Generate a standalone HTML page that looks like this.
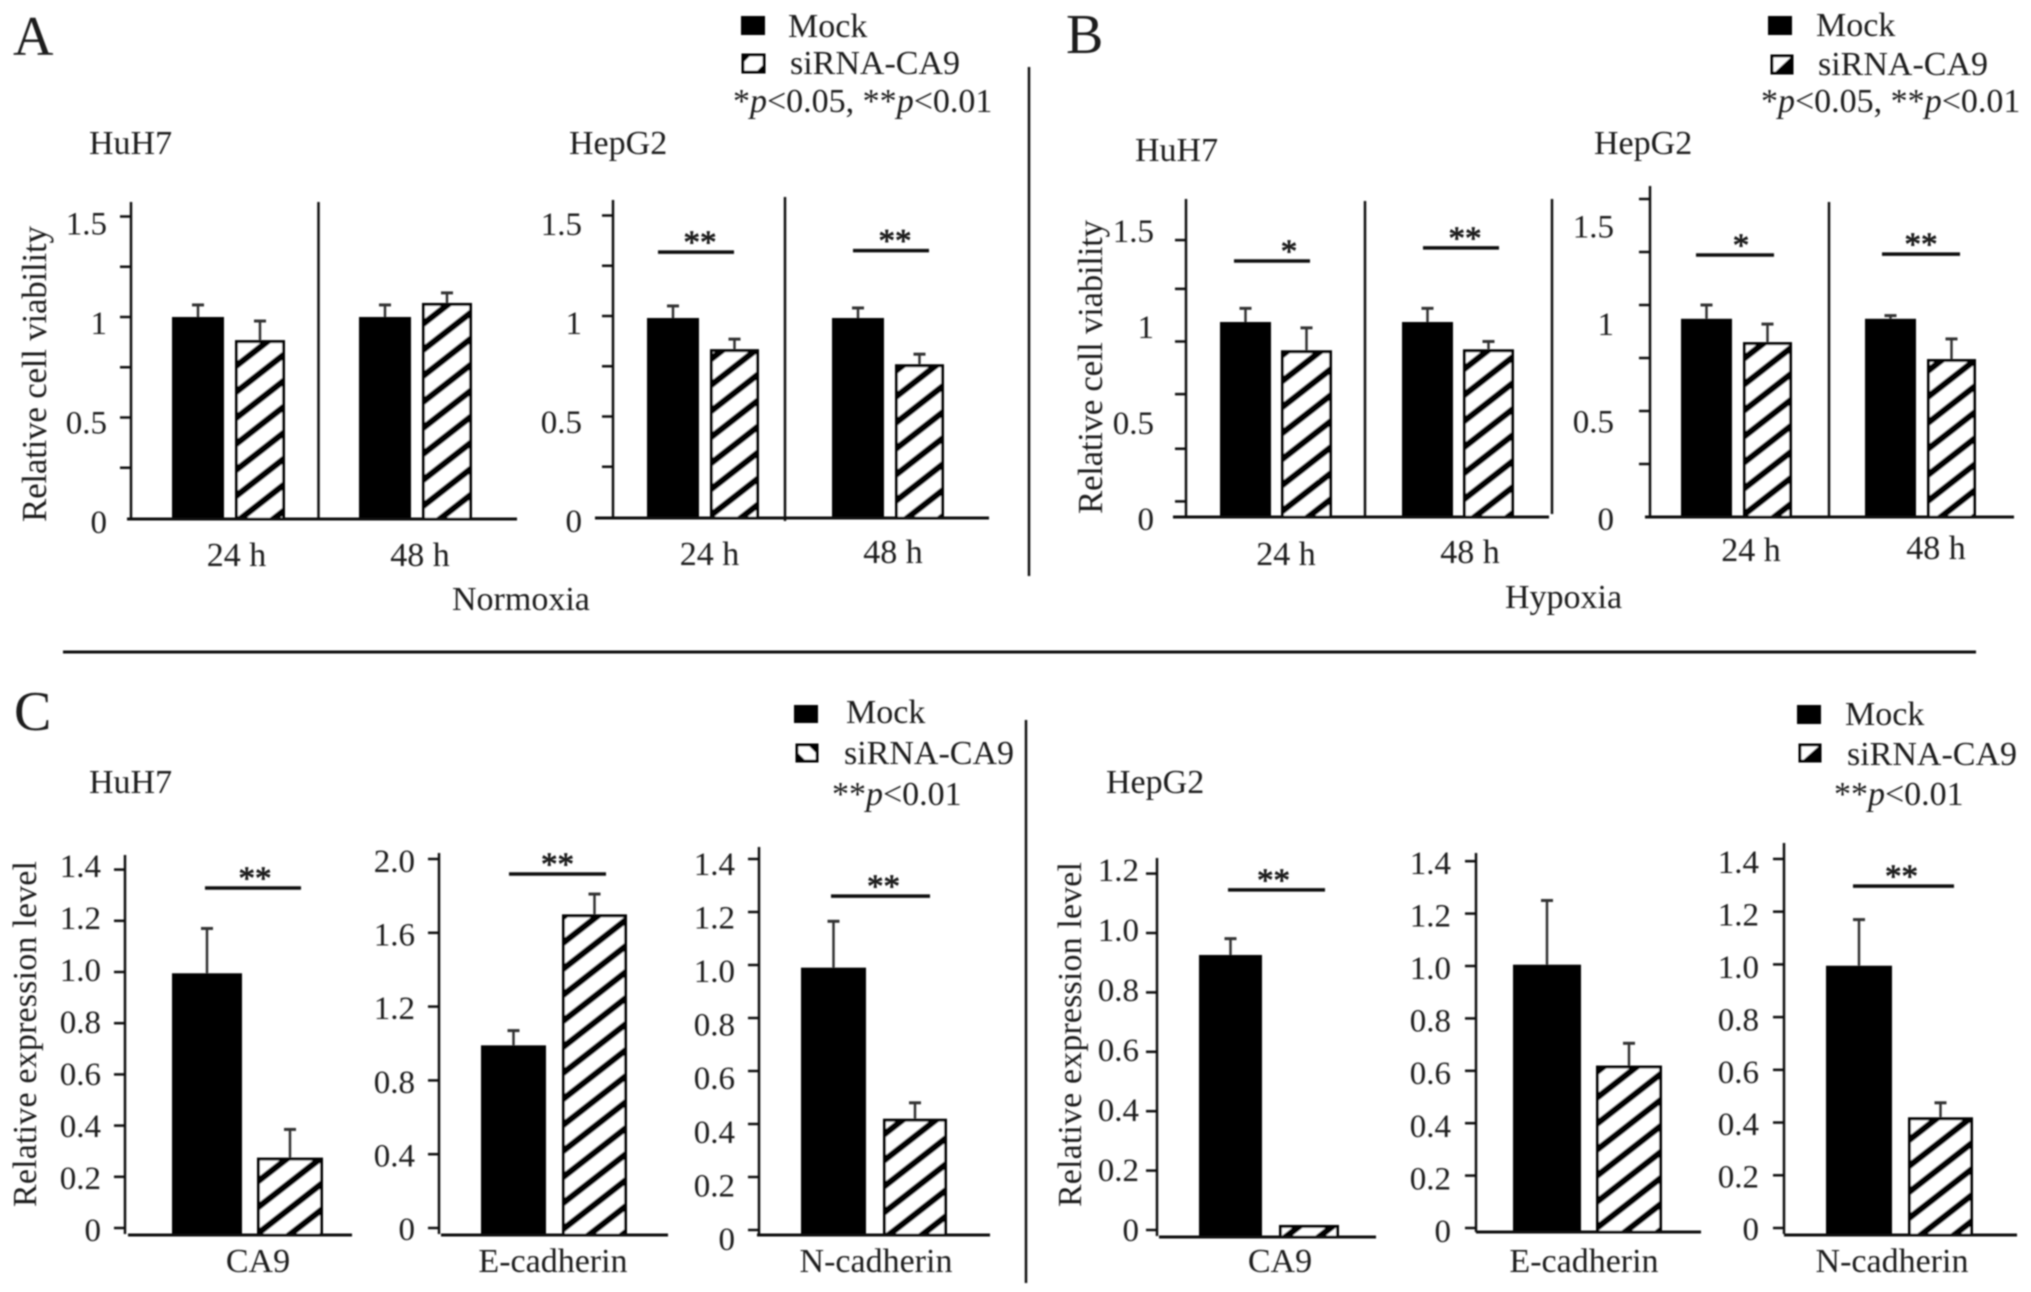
<!DOCTYPE html>
<html lang="en">
<head>
<meta charset="utf-8">
<title>Relative cell viability and expression level</title>
<style>
  html, body { margin: 0; padding: 0; background: #fff; }
  #figure { display: block; width: 2031px; height: 1292px; }
  text { font-family: "Liberation Serif", serif; fill: #1c1c1c; font-size: 34px; }
</style>
</head>
<body>
<svg id="figure" xmlns="http://www.w3.org/2000/svg" width="2031" height="1292" viewBox="0 0 2031 1292">
  <defs>
    <pattern id="hatch" width="20.5" height="20.5" patternUnits="userSpaceOnUse" patternTransform="rotate(-38)">
      <rect width="20.5" height="20.5" fill="#fff"></rect>
      <rect width="20.5" height="6.5" fill="#000"></rect>
    </pattern>
    <filter id="soft" x="0" y="0" width="100%" height="100%" filterUnits="userSpaceOnUse" primitiveUnits="userSpaceOnUse">
      <feGaussianBlur stdDeviation="0.7"></feGaussianBlur>
    </filter>
  </defs>
  <rect width="2031" height="1292" fill="#fff"></rect>
  <g id="root" filter="url(#soft)">

    <text x="13" y="55" style="font-size:56px">A</text>
    <text x="1066" y="53" style="font-size:56px">B</text>
    <text x="14" y="730" style="font-size:56px">C</text>

    <g>
      <rect x="741" y="16" width="24" height="19" fill="#000"></rect>
      <text x="788" y="37">Mock</text>
      <rect x="743" y="55" width="21" height="17" fill="#fff" stroke="#000" stroke-width="3"></rect>
      <polygon points="743,55 751,55 743,63" fill="#000"></polygon>
      <polygon points="764,72 756,72 764,64" fill="#000"></polygon>
      <text x="790" y="74">siRNA-CA9</text>
      <text x="733" y="112">*<tspan font-style="italic">p</tspan>&lt;0.05, **<tspan font-style="italic">p</tspan>&lt;0.01</text>
    </g>
    <g>
      <rect x="1768" y="16" width="24" height="19" fill="#000"></rect>
      <text x="1816" y="36">Mock</text>
      <rect x="1772" y="56" width="20" height="17" fill="#fff" stroke="#000" stroke-width="3"></rect>
      <polygon points="1792,56 1792,73 1774,73" fill="#000"></polygon>
      <text x="1818" y="75">siRNA-CA9</text>
      <text x="1761" y="112">*<tspan font-style="italic">p</tspan>&lt;0.05, **<tspan font-style="italic">p</tspan>&lt;0.01</text>
    </g>
    <g>
      <rect x="794" y="705" width="24" height="18" fill="#000"></rect>
      <text x="846" y="723">Mock</text>
      <rect x="797" y="745" width="20" height="16" fill="#fff" stroke="#000" stroke-width="3"></rect>
      <polygon points="808,745 817,745 817,754" fill="#000"></polygon>
      <polygon points="797,761 806,761 797,752" fill="#000"></polygon>
      <text x="844" y="764">siRNA-CA9</text>
      <text x="832" y="805">**<tspan font-style="italic">p</tspan>&lt;0.01</text>
    </g>
    <g>
      <rect x="1797" y="705" width="24" height="19" fill="#000"></rect>
      <text x="1845" y="725">Mock</text>
      <rect x="1800" y="745" width="20" height="16" fill="#fff" stroke="#000" stroke-width="3"></rect>
      <polygon points="1820,745 1820,761 1802,761" fill="#000"></polygon>
      <text x="1847" y="765">siRNA-CA9</text>
      <text x="1834" y="805">**<tspan font-style="italic">p</tspan>&lt;0.01</text>
    </g>

    <text x="89" y="154">HuH7</text>
    <text x="569" y="154">HepG2</text>
    <text x="1135" y="161">HuH7</text>
    <text x="1594" y="154">HepG2</text>
    <text x="89" y="793">HuH7</text>
    <text x="1106" y="793">HepG2</text>

    <text x="452" y="610">Normoxia</text>
    <text x="1505" y="608">Hypoxia</text>

    <text transform="translate(46 522) rotate(-90)" textLength="296" lengthAdjust="spacing" style="font-size:35px">Relative cell viability</text>
    <text transform="translate(1102 514) rotate(-90)" textLength="294" lengthAdjust="spacing" style="font-size:35px">Relative cell viability</text>
    <text transform="translate(36 1207) rotate(-90)" textLength="346" lengthAdjust="spacing" style="font-size:34px">Relative expression level</text>
    <text transform="translate(1081 1207) rotate(-90)" textLength="345" lengthAdjust="spacing" style="font-size:34px">Relative expression level</text>

    <line x1="1029" y1="67" x2="1029" y2="576" stroke="#111" stroke-width="2.5"></line>
    <line x1="63" y1="652" x2="1976" y2="652" stroke="#111" stroke-width="3"></line>
    <line x1="1026" y1="720" x2="1026" y2="1283" stroke="#111" stroke-width="2.5"></line>
  </g>
</svg>
<script>
// ---- Chart data ----
const timeCategories = ['24 h', '48 h'];
const viabilityTickLabels = ['1.5', '1', '0.5', '0'];
const viabilityTicks = [1.5, 1.25, 1, 0.75, 0.5, 0.25];
const hypoxiaHuh7Ticks = [1.42, 1.17, 0.9, 0.63, 0.35, 0.08];

const normHuh7Mock = [1.0, 1.0];
const normHuh7MockErr = [0.06, 0.06];
const normHuh7Sirna = [0.885, 1.07];
const normHuh7SirnaErr = [0.095, 0.05];

const normHepg2Mock = [0.99, 0.99];
const normHepg2MockErr = [0.06, 0.05];
const normHepg2Sirna = [0.835, 0.76];
const normHepg2SirnaErr = [0.05, 0.05];
const normHepg2Sig = [1.318, 1.325];
const normHepg2Stars = ['**', '**'];

const hypHuh7Mock = [1.0, 1.0];
const hypHuh7MockErr = [0.07, 0.07];
const hypHuh7Sirna = [0.855, 0.86];
const hypHuh7SirnaErr = [0.115, 0.04];
const hypHuh7Sig = [1.313, 1.38];
const hypHuh7Stars = ['*', '**'];

const hypHepg2Mock = [0.935, 0.935];
const hypHepg2MockErr = [0.065, 0.015];
const hypHepg2Sirna = [0.825, 0.745];
const hypHepg2SirnaErr = [0.085, 0.095];
const hypHepg2Sig = [1.236, 1.24];
const hypHepg2Stars = ['*', '**'];

const expressionTickLabels = ['1.4', '1.2', '1.0', '0.8', '0.6', '0.4', '0.2', '0'];
const expressionTicks = [1.4, 1.2, 1.0, 0.8, 0.6, 0.4, 0.2, 0];
const wideTickLabels = ['2.0', '1.6', '1.2', '0.8', '0.4', '0'];
const wideTicks = [2.0, 1.6, 1.2, 0.8, 0.4, 0];
const ca9HepTickLabels = ['1.2', '1.0', '0.8', '0.6', '0.4', '0.2', '0'];
const ca9HepTicks = [1.2, 1.0, 0.8, 0.6, 0.4, 0.2, 0];

const huh7Ca9Cat = ['CA9'];
const huh7Ca9Mock = [0.995];
const huh7Ca9MockErr = [0.175];
const huh7Ca9Sirna = [0.275];
const huh7Ca9SirnaErr = [0.11];
const huh7Ca9Sig = [1.328];
const huh7Ca9Stars = ['**'];

const huh7EcadCat = ['E-cadherin'];
const huh7EcadMock = [0.99];
const huh7EcadMockErr = [0.08];
const huh7EcadSirna = [1.7];
const huh7EcadSirnaErr = [0.11];
const huh7EcadSig = [1.919];
const huh7EcadStars = ['**'];

const huh7NcadCat = ['N-cadherin'];
const huh7NcadMock = [0.99];
const huh7NcadMockErr = [0.175];
const huh7NcadSirna = [0.42];
const huh7NcadSirnaErr = [0.06];
const huh7NcadSig = [1.26];
const huh7NcadStars = ['**'];

const hepCa9Cat = ['CA9'];
const hepCa9Mock = [0.926];
const hepCa9MockErr = [0.055];
const hepCa9Sirna = [0.017];
const hepCa9SirnaErr = [0];
const hepCa9Sig = [1.145];
const hepCa9Stars = ['**'];

const hepEcadCat = ['E-cadherin'];
const hepEcadMock = [1.005];
const hepEcadMockErr = [0.245];
const hepEcadSirna = [0.62];
const hepEcadSirnaErr = [0.085];

const hepNcadCat = ['N-cadherin'];
const hepNcadMock = [0.995];
const hepNcadMockErr = [0.175];
const hepNcadSirna = [0.42];
const hepNcadSirnaErr = [0.055];
const hepNcadSig = [1.297];
const hepNcadStars = ['**'];

// ---- Panel layout: axis geometry only; marks come from the data arrays ----
const panels = [
  { id: 'normoxia-huh7', cats: timeCategories, mock: normHuh7Mock, mockErr: normHuh7MockErr, sirna: normHuh7Sirna, sirnaErr: normHuh7SirnaErr, ticks: viabilityTicks, labels: viabilityTickLabels,
    axisX: 131, top: 202, axisEnd: 519, y0: 518, unit: 201, base: 519, baseL: 127, baseR: 517, x0: 172, step: 187, offset: 63, w1: 52, w2: 50,
    labelX: 107, labelY0: 533, labelUnit: 199, dividers: [[318.5, 202, 519]], catX: 236.5, catStep: 183.5, catY: 566, catDy: 0 },
  { id: 'normoxia-hepg2', cats: timeCategories, mock: normHepg2Mock, mockErr: normHepg2MockErr, sirna: normHepg2Sirna, sirnaErr: normHepg2SirnaErr, ticks: viabilityTicks, labels: viabilityTickLabels,
    sig: normHepg2Sig, stars: normHepg2Stars,
    axisX: 613, top: 200, axisEnd: 518, y0: 517, unit: 201, base: 518, baseL: 595, baseR: 989, x0: 647, step: 185, offset: 63, w1: 52, w2: 49,
    labelX: 582, labelY0: 532, labelUnit: 198, dividers: [[785, 197, 521]], catX: 709.5, catStep: 183.5, catY: 565, catDy: -2,
    sigX: 658, sigStep: 195, sigW: 76, starDx: [4, 4] },
  { id: 'hypoxia-huh7', cats: timeCategories, mock: hypHuh7Mock, mockErr: hypHuh7MockErr, sirna: hypHuh7Sirna, sirnaErr: hypHuh7SirnaErr, ticks: hypoxiaHuh7Ticks, labels: viabilityTickLabels,
    sig: hypHuh7Sig, stars: hypHuh7Stars,
    axisX: 1186, top: 199, axisEnd: 517, y0: 517, unit: 195, base: 517, baseL: 1173, baseR: 1549, x0: 1220, step: 182, offset: 61, w1: 51, w2: 51,
    labelX: 1154, labelY0: 530, labelUnit: 192, dividers: [[1365, 201, 517], [1552, 199, 514]], catX: 1286, catStep: 184, catY: 565, catDy: -2,
    sigX: 1234, sigStep: 189, sigW: 76, starDx: [17, 4] },
  { id: 'hypoxia-hepg2', cats: timeCategories, mock: hypHepg2Mock, mockErr: hypHepg2MockErr, sirna: hypHepg2Sirna, sirnaErr: hypHepg2SirnaErr, ticks: viabilityTicks, labels: viabilityTickLabels,
    sig: hypHepg2Sig, stars: hypHepg2Stars,
    axisX: 1650, top: 186, axisEnd: 517, y0: 517, unit: 212, base: 517, baseL: 1645, baseR: 2014, x0: 1681, step: 184, offset: 62, w1: 51, w2: 49,
    labelX: 1614, labelY0: 530, labelUnit: 195, dividers: [[1829, 202, 518]], catX: 1751, catStep: 185, catY: 561, catDy: -2,
    sigX: 1696, sigStep: 186, sigW: 78, starDx: [6, 0] },
  { id: 'huh7-ca9', cats: huh7Ca9Cat, mock: huh7Ca9Mock, mockErr: huh7Ca9MockErr, sirna: huh7Ca9Sirna, sirnaErr: huh7Ca9SirnaErr, ticks: expressionTicks, labels: expressionTickLabels,
    sig: huh7Ca9Sig, stars: huh7Ca9Stars,
    axisX: 125, top: 855, axisEnd: 1234, y0: 1228, unit: 256, base: 1235, baseL: 128, baseR: 352, x0: 172, step: 0, offset: 85, w1: 70, w2: 66,
    labelX: 101, labelY0: 1241, labelUnit: 260, dividers: [], catX: 258, catStep: 0, catY: 1272, catDy: 0,
    sigX: 205, sigStep: 0, sigW: 96, starDx: [2] },
  { id: 'huh7-e-cadherin', cats: huh7EcadCat, mock: huh7EcadMock, mockErr: huh7EcadMockErr, sirna: huh7EcadSirna, sirnaErr: huh7EcadSirnaErr, ticks: wideTicks, labels: wideTickLabels,
    sig: huh7EcadSig, stars: huh7EcadStars,
    axisX: 439, top: 853, axisEnd: 1234, y0: 1228, unit: 184.5, base: 1235, baseL: 441, baseR: 668, x0: 481, step: 0, offset: 81, w1: 65, w2: 65,
    labelX: 415, labelY0: 1240, labelUnit: 184, dividers: [], catX: 553, catStep: 0, catY: 1272, catDy: 0,
    sigX: 509, sigStep: 0, sigW: 97, starDx: [0] },
  { id: 'huh7-n-cadherin', cats: huh7NcadCat, mock: huh7NcadMock, mockErr: huh7NcadMockErr, sirna: huh7NcadSirna, sirnaErr: huh7NcadSirnaErr, ticks: expressionTicks, labels: expressionTickLabels,
    sig: huh7NcadSig, stars: huh7NcadStars,
    axisX: 759, top: 847, axisEnd: 1234, y0: 1230, unit: 265, base: 1235, baseL: 757, baseR: 990, x0: 801, step: 0, offset: 82, w1: 65, w2: 64,
    labelX: 735, labelY0: 1250, labelUnit: 268, dividers: [], catX: 876, catStep: 0, catY: 1272, catDy: 0,
    sigX: 831, sigStep: 0, sigW: 99, starDx: [3] },
  { id: 'hepg2-ca9', cats: hepCa9Cat, mock: hepCa9Mock, mockErr: hepCa9MockErr, sirna: hepCa9Sirna, sirnaErr: hepCa9SirnaErr, ticks: ca9HepTicks, labels: ca9HepTickLabels,
    sig: hepCa9Sig, stars: hepCa9Stars,
    axisX: 1157, top: 858, axisEnd: 1236, y0: 1230, unit: 297, base: 1237, baseL: 1159, baseR: 1376, x0: 1199, step: 0, offset: 80, w1: 63, w2: 60,
    labelX: 1139, labelY0: 1241, labelUnit: 300, dividers: [], catX: 1280, catStep: 0, catY: 1272, catDy: 0,
    sigX: 1228, sigStep: 0, sigW: 97, starDx: [-3] },
  { id: 'hepg2-e-cadherin', cats: hepEcadCat, mock: hepEcadMock, mockErr: hepEcadMockErr, sirna: hepEcadSirna, sirnaErr: hepEcadSirnaErr, ticks: expressionTicks, labels: expressionTickLabels,
    axisX: 1476, top: 853, axisEnd: 1232, y0: 1228, unit: 262, base: 1232, baseL: 1476, baseR: 1701, x0: 1513, step: 0, offset: 83, w1: 68, w2: 66,
    labelX: 1451, labelY0: 1242, labelUnit: 263, dividers: [], catX: 1584, catStep: 0, catY: 1272, catDy: 0 },
  { id: 'hepg2-n-cadherin', cats: hepNcadCat, mock: hepNcadMock, mockErr: hepNcadMockErr, sirna: hepNcadSirna, sirnaErr: hepNcadSirnaErr, ticks: expressionTicks, labels: expressionTickLabels,
    sig: hepNcadSig, stars: hepNcadStars,
    axisX: 1784, top: 843, axisEnd: 1234, y0: 1228, unit: 263.6, base: 1235, baseL: 1784, baseR: 2017, x0: 1826, step: 0, offset: 82, w1: 66, w2: 65,
    labelX: 1759, labelY0: 1240, labelUnit: 262, dividers: [], catX: 1892, catStep: 0, catY: 1272, catDy: 0,
    sigX: 1853, sigStep: 0, sigW: 101, starDx: [-2] }
];

const SVG_NS = 'http://www.w3.org/2000/svg';
const root = document.getElementById('root');

function make(parent, tag, attrs) {
  const node = document.createElementNS(SVG_NS, tag);
  Object.keys(attrs).forEach(function (k) { node.setAttribute(k, attrs[k]); });
  parent.appendChild(node);
  return node;
}
function yScale(p, v) { return p.y0 - v * p.unit; }
function xBar(p, group, series) { return p.x0 + group * p.step + series * p.offset; }
function yLabel(p, v) { return p.labelY0 - v * p.labelUnit; }

function drawLine(parent, x1, y1, x2, y2, width, color) {
  return make(parent, 'line', { x1: x1, y1: y1, x2: x2, y2: y2, stroke: color, 'stroke-width': width });
}

function drawBar(g, p, i, series, value, err) {
  const w = series === 0 ? p.w1 : p.w2;
  const x = xBar(p, i, series);
  const top = yScale(p, value);
  if (err > 0) {
    const errTop = yScale(p, value + err);
    const stem = drawLine(g, x + w / 2, top, x + w / 2, errTop, 2.5, '#333');
    
    
    const cap = drawLine(g, x + w / 2 - 6, errTop, x + w / 2 + 6, errTop, 3, '#333');
    
    
  }
  const attrs = series === 0
    ? { x: x, y: top, width: w, height: p.base - top, fill: '#000' }
    : { x: x + 1.5, y: top + 1.5, width: w - 3, height: Math.max(p.base - top - 1.5, 1), fill: 'url(#hatch)', stroke: '#000', 'stroke-width': 3 };
  const bar = make(g, 'rect', attrs);
  
  
}

panels.forEach(function (p) {
  const g = make(root, 'g', {});
  
  

  p.dividers.forEach(function (d) {
    const div = drawLine(g, d[0], d[1], d[0], d[2], 2.5, '#111');
    
    
  });

  p.cats.forEach(function (cat, i) {
    drawBar(g, p, i, 0, p.mock[i], p.mockErr[i]);
    drawBar(g, p, i, 1, p.sirna[i], p.sirnaErr[i]);
    const label = make(g, 'text', { x: p.catX + i * p.catStep, y: p.catY + i * p.catDy, 'text-anchor': 'middle' });
    label.textContent = cat;
    
    
  });

  const axis = drawLine(g, p.axisX, p.top, p.axisX, p.axisEnd, 2.5, '#111');
  
  
  const baseline = drawLine(g, p.baseL, p.base, p.baseR, p.base, 3, '#111');
  
  

  p.ticks.forEach(function (v) {
    const tick = drawLine(g, p.axisX - 11, yScale(p, v), p.axisX, yScale(p, v), 2.5, '#111');
    
    
  });

  p.labels.forEach(function (text) {
    const label = make(g, 'text', { x: p.labelX, y: yLabel(p, Number(text)), 'text-anchor': 'end', style: 'font-size:33px' });
    label.textContent = text;
    
    
  });

  if (p.sig) {
    p.sig.forEach(function (level, i) {
      const sx = p.sigX + i * p.sigStep;
      const sy = yScale(p, level);
      const line = drawLine(g, sx, sy, sx + p.sigW, sy, 3.5, '#111');
      
      
      const star = make(g, 'text', { x: sx + p.sigW / 2 + p.starDx[i], y: sy + 1, 'text-anchor': 'middle', style: 'font-size:33px;stroke:#1c1c1c;stroke-width:0.8px' });
      star.textContent = p.stars[i];
      
      
    });
  }
});
</script>
</body>
</html>
